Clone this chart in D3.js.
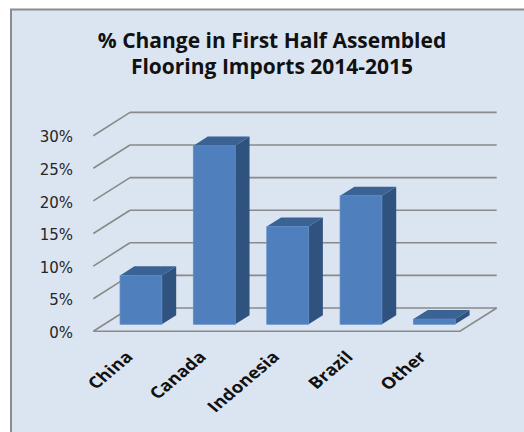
<!DOCTYPE html>
<html>
<head>
<meta charset="utf-8">
<script src="https://cdn.jsdelivr.net/npm/d3@7"></script>
<style>
  html, body { margin: 0; padding: 0; background: #ffffff; }
  svg { display: block; }
</style>
</head>
<body>
<svg id="chart" width="524" height="432"></svg>
<script>
// ---- data ----
const categories = ["China", "Canada", "Indonesia", "Brazil", "Other"];
const values = [7.5, 27.4, 15.0, 19.7, 0.8];
const tickValues = [0, 5, 10, 15, 20, 25, 30];
const tickLabels = ["0%", "5%", "10%", "15%", "20%", "25%", "30%"];
const titleLines = ["% Change in First Half Assembled", "Flooring Imports 2014-2015"];

// ---- layout ----
const W = 524, H = 432;
const DX = 36.7, DY = 23.3;          // oblique depth offset (full depth)
const dFront = 0.30, dBack = 0.69;    // bar depth range
const svg = d3.select("#chart");

const y = d3.scaleLinear().domain([0, 30]).range([331.3, 135.7]);
const x = d3.scaleBand().domain(categories).range([93.3, 460])
  .paddingInner(0.43).paddingOuter(0.215);

const P = (px, v, d) => [px + d * DX, y(v) - d * DY];

// background panel
svg.append("rect").attr("x", 11).attr("y", 9.5).attr("width", W).attr("height", H)
  .attr("fill", "#dbe5f1").attr("stroke", "#8c8c8c").attr("stroke-width", 2);

// title
svg.append("g").selectAll("text").data(titleLines).join("text")
  .attr("x", 272).attr("y", (d, i) => 48.3 + i * 26)
  .attr("text-anchor", "middle")
  .attr("font-family", "'Open Sans', sans-serif").attr("font-weight", "bold")
  .attr("font-size", 21).attr("fill", "#111")
  .text(d => d);

const grid = svg.append("g").attr("stroke", "#8a8a8a").attr("stroke-width", 1.6)
  .attr("fill", "none");
const x0 = x.range()[0], x1 = x.range()[1];
// back wall lines
grid.selectAll("line.back").data(tickValues).join("line").attr("class", "back")
  .attr("x1", d => P(x0, d, 1)[0]).attr("y1", d => P(x0, d, 1)[1])
  .attr("x2", d => P(x1, d, 1)[0]).attr("y2", d => P(x1, d, 1)[1]);
// side wall lines
grid.selectAll("line.side").data(tickValues).join("line").attr("class", "side")
  .attr("x1", d => P(x0, d, 1)[0]).attr("y1", d => P(x0, d, 1)[1])
  .attr("x2", d => P(x0, d, 0)[0]).attr("y2", d => P(x0, d, 0)[1]);
// floor front & right edges
grid.append("path").attr("d", d3.line()([P(x0, 0, 0), P(x1, 0, 0), P(x1, 0, 1)]));

// bars
const bars = svg.append("g").selectAll("g").data(categories.map((c, i) => ({ c, v: values[i] }))).join("g");
const bw = x.bandwidth();
bars.append("path") // side
  .attr("d", d => d3.line()([P(x(d.c) + bw, 0, dFront), P(x(d.c) + bw, 0, dBack), P(x(d.c) + bw, d.v, dBack), P(x(d.c) + bw, d.v, dFront)]) + "Z")
  .attr("fill", "#30527e");
bars.append("path") // top
  .attr("d", d => d3.line()([P(x(d.c), d.v, dFront), P(x(d.c) + bw, d.v, dFront), P(x(d.c) + bw, d.v, dBack), P(x(d.c), d.v, dBack)]) + "Z")
  .attr("fill", "#3a6293");
bars.append("path") // front
  .attr("d", d => d3.line()([P(x(d.c), 0, dFront), P(x(d.c) + bw, 0, dFront), P(x(d.c) + bw, d.v, dFront), P(x(d.c), d.v, dFront)]) + "Z")
  .attr("fill", "#4f7fbd").attr("stroke", "#5a8ac6").attr("stroke-width", 0.8);

// y tick labels
svg.append("g").selectAll("text").data(tickValues).join("text")
  .attr("x", 73).attr("y", d => y(d) + 1.5).attr("dy", "0.35em")
  .attr("text-anchor", "end")
  .attr("font-family", "'DejaVu Sans', sans-serif").attr("font-size", 15)
  .attr("fill", "#262626")
  .text((d, i) => tickLabels[i]);

// category labels (slanted, slightly stretched horizontally like the reference)
svg.append("g").selectAll("text").data(categories).join("text")
  .attr("transform", d => {
    const cx = x(d) + bw / 2 + 4;
    return `translate(${cx},358) scale(1.18,1) rotate(-45)`;
  })
  .attr("text-anchor", "end")
  .attr("font-family", "'Open Sans', sans-serif").attr("font-weight", "bold")
  .attr("font-size", 16).attr("fill", "#111")
  .text(d => d);
</script>
</body>
</html>
